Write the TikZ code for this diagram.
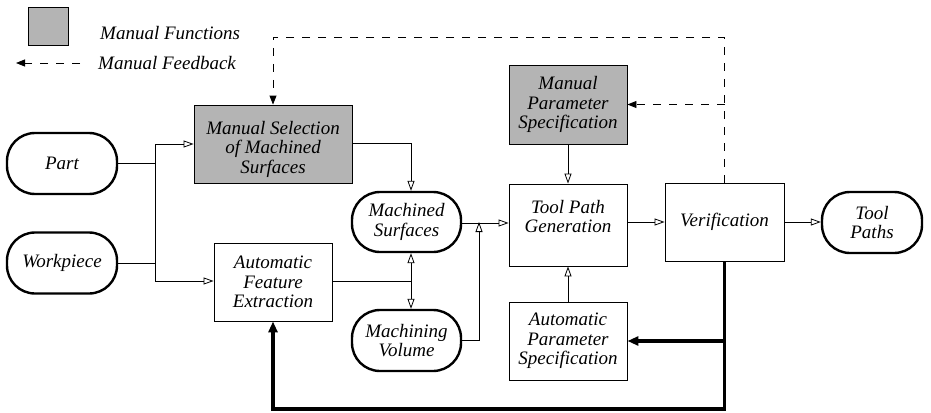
\documentclass[tikz,border=0pt]{standalone}
\usepackage{fontspec}
\setmainfont{Liberation Serif}
\usetikzlibrary{arrows.meta}
\definecolor{manualgray}{RGB}{180,180,180}
\tikzset{
  lbl/.style={font=\fontsize{19}{19.5}\selectfont\itshape, align=center, inner sep=0pt},
  procbox/.style={draw, line width=0.9pt, inner sep=0pt},
  manualbox/.style={procbox, fill=manualgray},
  datashape/.style={draw, line width=2.4pt, rounded corners=28pt, inner sep=0pt,
                    font=\fontsize{19}{19.5}\selectfont\itshape, align=center},
  flow/.style={line width=0.9pt, -{Triangle[open, length=10pt, width=7pt, line width=0.8pt]}},
  plainline/.style={line width=0.9pt},
  mfeed/.style={line width=0.9pt, dash pattern=on 8pt off 8pt,
                -{Triangle[length=9pt, width=7pt]}},
  afeed/.style={line width=3.5pt, -{Triangle[length=11pt, width=9pt]}},
}
\begin{document}
\begin{tikzpicture}[x=1pt, y=-1pt]
\useasboundingbox (0,0) rectangle (931,412);

% legend
\node[manualbox, minimum width=40pt, minimum height=38pt] (lgbox) at (48,26) {};
\node[lbl, anchor=west] (lgfun) at (100,33) {Manual Functions};
\coordinate (lgs) at (80,63);
\coordinate (lge) at (16,63);
\draw[mfeed] (lgs) -- (lge);
\node[lbl, anchor=west] (lgfb) at (98,63) {Manual Feedback};

% data items
\node[datashape, minimum width=110pt, minimum height=61pt] (part) at (62,163.5) {Part};
\node[datashape, minimum width=110pt, minimum height=61pt] (wp) at (62,263) {Workpiece};
\node[datashape, minimum width=109pt, minimum height=60pt] (ms) at (406.5,222) {Machined\\Surfaces};
\node[datashape, minimum width=109pt, minimum height=61pt] (mv) at (406.5,340.5) {Machining\\Volume};
\node[datashape, minimum width=100pt, minimum height=61pt] (tp) at (872,222.5) {Tool\\Paths};

% process boxes
\node[manualbox, minimum width=158pt, minimum height=78pt] (msel) at (273,144) {};
\node[lbl] (mselt) at (273,149) {Manual Selection\\of Machined\\Surfaces};
\node[procbox, minimum width=118pt, minimum height=78pt, lbl] (afe) at (273,282) {Automatic\\Feature\\Extraction};
\node[manualbox, minimum width=118pt, minimum height=79pt, lbl] (mps) at (568,104.5) {Manual\\Parameter\\Specification};
\node[procbox, minimum width=118pt, minimum height=82pt] (tpg) at (568,225) {};
\node[lbl] (tpgt) at (568,216.5) {Tool Path\\Generation};
\node[procbox, minimum width=118pt, minimum height=78pt, lbl] (aps) at (568,341) {Automatic\\Parameter\\Specification};
\node[procbox, minimum width=119pt, minimum height=78pt, lbl] (ver) at (724.5,222) {Verification};

% junction points
\coordinate (j1) at (155,144);
\coordinate (j2) at (155,281);
\coordinate (k1) at (411,143);
\coordinate (k2) at (411,281);
\coordinate (k3) at (479,223);
\coordinate (d1) at (724.5,37);
\coordinate (d2) at (273,37);
\coordinate (f1) at (724.5,409);

% inputs into the two extraction paths
\draw[plainline] (part.east) -- (part.east -| j1);
\draw[plainline] (wp.east) -- (wp.east -| j1);
\draw[plainline] (j1) -- (j2);
\draw[flow] (j1) -- (j1 -| msel.west);
\draw[flow] (j2) -- (j2 -| afe.west);

% surfaces and volume
\draw[flow] (msel.east |- k1) -- (k1) -- (k1 |- ms.north);
\draw[plainline] (afe.east |- k2) -- (k2);
\draw[flow] (k2) -- (k2 |- ms.south);
\draw[flow] (k2) -- (k2 |- mv.north);
\draw[flow] (mv.east) -- (mv.east -| k3) -- ([yshift=1pt]k3);
\draw[flow] (ms.east |- k3) -- (k3 -| tpg.west);

% tool path generation and verification
\draw[flow] (mps.south) -- (tpg.north);
\draw[flow] (aps.north) -- (tpg.south);
\draw[flow] (ver.west -| tpg.east) -- (ver.west);
\draw[flow] (ver.east) -- (ver.east -| tp.west);

% manual feedback
\draw[mfeed] (ver.north) -- (d1) -- (d2) -- (d2 |- msel.north);
\draw[mfeed] (d1 |- mps.east) -- (mps.east);

% automatic feedback
\draw[afeed, line join=miter] (ver.south) -- (f1) -- (f1 -| afe.south) -- (afe.south);
\draw[afeed] (ver.south |- aps.east) -- (aps.east);
\end{tikzpicture}
\end{document}
